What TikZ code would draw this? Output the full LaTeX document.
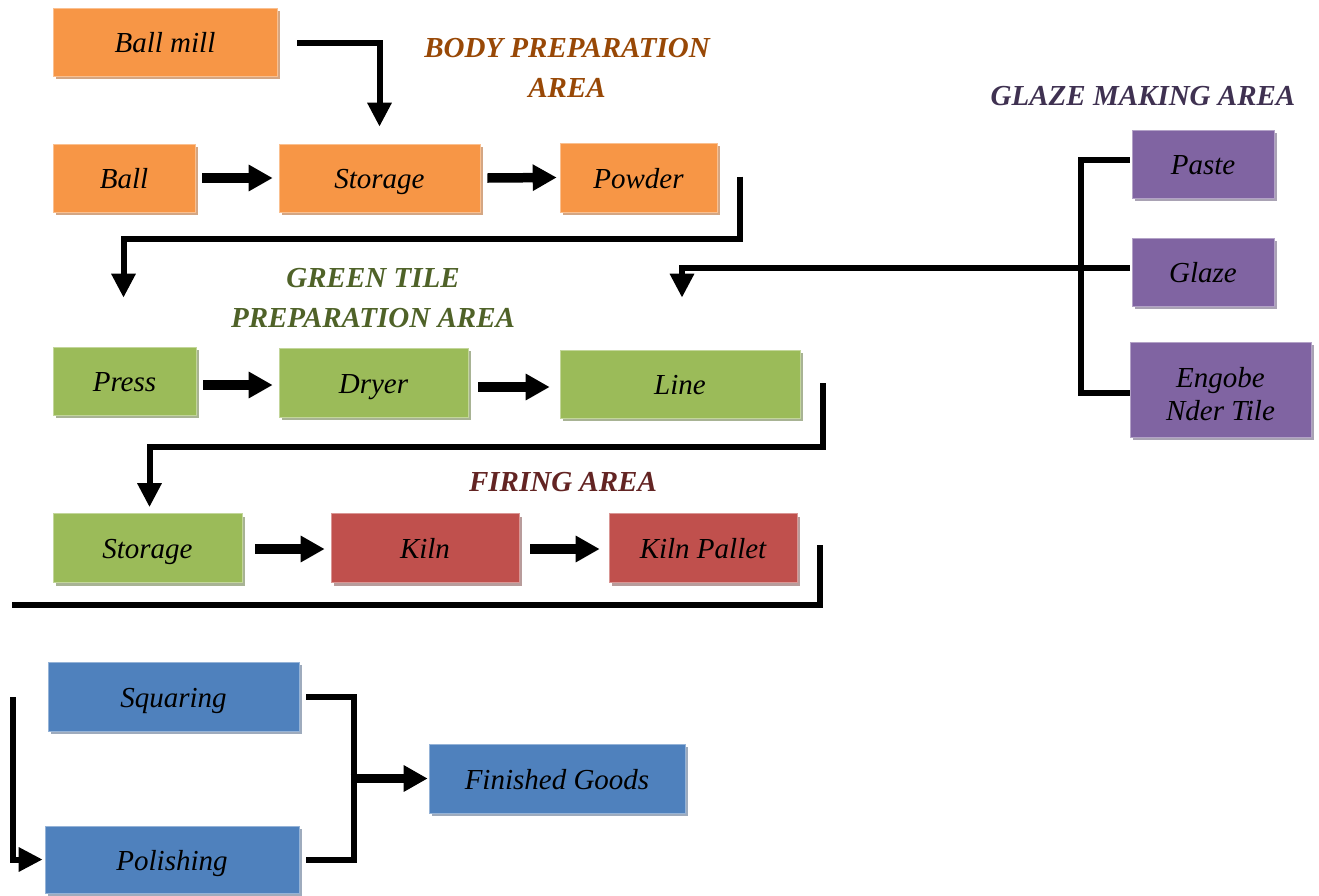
\documentclass[tikz,border=0pt]{standalone}
\usepackage{fontspec}
\setmainfont{Liberation Serif}
\usetikzlibrary{arrows.meta,shadows}
\definecolor{cOr}{HTML}{F79646}
\definecolor{sOr}{HTML}{D4A683}
\definecolor{cGr}{HTML}{9BBB59}
\definecolor{sGr}{HTML}{A8B394}
\definecolor{cRd}{HTML}{C0504D}
\definecolor{sRd}{HTML}{B89C9B}
\definecolor{cPu}{HTML}{8064A2}
\definecolor{sPu}{HTML}{A9A2B4}
\definecolor{cBl}{HTML}{4F81BD}
\definecolor{sBl}{HTML}{9EABBD}
\definecolor{tBody}{HTML}{984806}
\definecolor{tGreen}{HTML}{4F6228}
\definecolor{tFire}{HTML}{632423}
\definecolor{tGlaze}{HTML}{3F3151}
\begin{document}
\begin{tikzpicture}[x=1pt,y=-1pt,
  box/.style={rectangle, inner sep=0pt, align=center, text=black,
    font=\fontsize{29}{33}\selectfont\itshape, line width=0.6pt},
  oneline/.style={text height=24pt, text depth=3pt},
  obox/.style={box, oneline, fill=cOr, draw=cOr!60!white, drop shadow={shadow xshift=3pt, shadow yshift=-3pt, opacity=1, fill=sOr}},
  gbox/.style={box, oneline, fill=cGr, draw=cGr!60!white, drop shadow={shadow xshift=3pt, shadow yshift=-3pt, opacity=1, fill=sGr}},
  rbox/.style={box, oneline, fill=cRd, draw=cRd!60!white, drop shadow={shadow xshift=3pt, shadow yshift=-3pt, opacity=1, fill=sRd}},
  pbox/.style={box, fill=cPu, draw=cPu!60!white, drop shadow={shadow xshift=3pt, shadow yshift=-3pt, opacity=1, fill=sPu}},
  bbox/.style={box, oneline, fill=cBl, draw=cBl!60!white, drop shadow={shadow xshift=3pt, shadow yshift=-3pt, opacity=1, fill=sBl}},
  areatitle/.style={align=center, inner sep=0pt, font=\fontsize{29}{40}\selectfont\bfseries\itshape},
  harrow/.style={line width=9.5pt, -{Triangle[length=24pt,width=25pt]}},
  elbow/.style={line width=6pt},
  elbowarrow/.style={line width=6pt, -{Triangle[length=24pt,width=23pt]}}
]
\useasboundingbox (0,0) rectangle (1319,895);

% body preparation area
\node[obox, minimum width=224pt, minimum height=68pt] (bm) at (165,42) {Ball mill};
\node[obox, minimum width=142pt, minimum height=68pt] (ball) at (124,178) {Ball};
\node[obox, minimum width=201pt, minimum height=68pt] (st1) at (379.5,178) {Storage};
\node[obox, minimum width=157pt, minimum height=69pt] (pow) at (638.5,177.5) {Powder};
\node[areatitle, text=tBody] (tbody) at (567,68) {BODY PREPARATION\\AREA};

% green tile preparation area
\node[gbox, minimum width=143pt, minimum height=68pt] (press) at (124.5,381) {Press};
\node[gbox, minimum width=189pt, minimum height=69pt] (dryer) at (373.5,382.5) {Dryer};
\node[gbox, minimum width=240pt, minimum height=68pt] (line) at (680,384) {Line};
\node[gbox, minimum width=189pt, minimum height=69pt] (st2) at (147.5,548) {Storage};
\node[areatitle, text=tGreen] (tgreen) at (373,298) {GREEN TILE\\PREPARATION AREA};

% firing area
\node[rbox, minimum width=188pt, minimum height=69pt] (kiln) at (425,548) {Kiln};
\node[rbox, minimum width=188pt, minimum height=69pt] (kp) at (703,548) {Kiln Pallet};
\node[areatitle, text=tFire] (tfire) at (563,482) {FIRING AREA};

% glaze making area
\node[pbox, oneline, minimum width=142pt, minimum height=68pt] (paste) at (1203,164) {Paste};
\node[pbox, oneline, minimum width=142pt, minimum height=68pt] (glaze) at (1203,272) {Glaze};
\node[pbox, minimum width=181pt, minimum height=95pt] (eng) at (1220.5,389.5) {\rule{0pt}{30pt}Engobe\\Nder Tile};
\node[areatitle, text=tGlaze] (tglaze) at (1143,96) {GLAZE MAKING AREA};

% finishing
\node[bbox, minimum width=251pt, minimum height=69pt] (sq) at (173.5,696.5) {Squaring};
\node[bbox, minimum width=254pt, minimum height=67pt] (pol) at (172,859.5) {Polishing};
\node[bbox, minimum width=256pt, minimum height=69pt] (fg) at (557,778.5) {Finished Goods};

% connectors: body preparation
\draw[elbowarrow] ([shift={(20,1)}]bm.east) -| ([yshift=17pt]st1.north);
\draw[harrow] ([xshift=7pt]ball.east) -- ([xshift=-6pt]st1.west);
\draw[harrow] ([xshift=7pt]st1.east) -- ([xshift=-3pt]pow.west);
\draw[elbowarrow] ([shift={(23,-1)}]pow.east) -- ++(0,62) -| ([shift={(-1,-49)}]press.north);

% connectors: glaze
\draw[elbow] ([shift={(-2,-4)}]paste.west) -| ([shift={(-49,3.5)}]eng.west) -- ([shift={(0,3.5)}]eng.west);
\draw[elbowarrow] ([shift={(-2,-4)}]glaze.west) -| ([shift={(2,-52)}]line.north);

% connectors: green tile
\draw[harrow] ([shift={(7,4)}]press.east) -- ([shift={(-6,2.5)}]dryer.west);
\draw[harrow] ([shift={(10,4.5)}]dryer.east) -- ([shift={(-10,3)}]line.west);
\draw[elbowarrow] ([shift={(23,-1)}]line.east) -- ++(0,64) -| ([shift={(2,-6)}]st2.north);

% connectors: firing
\draw[harrow] ([shift={(13,1)}]st2.east) -- ([shift={(-6,1)}]kiln.west);
\draw[harrow] ([shift={(11,1)}]kiln.east) -- ([shift={(-9,1)}]kp.west);
\coordinate (brkA) at (12,605);
\draw[elbow] ([shift={(23,-3)}]kp.east) |- (brkA);

% connectors: finishing
\coordinate (brkB) at (13,697);
\draw[elbowarrow] (brkB) |- ([xshift=-2pt]pol.west);
\coordinate (jn) at ([xshift=-75pt]fg.west);
\draw[elbow] ([xshift=7pt]sq.east) -| (jn);
\draw[elbow] ([xshift=7pt]pol.east) -| (jn);
\draw[harrow] ([xshift=-3pt]jn) -- ([xshift=-1pt]fg.west);
\end{tikzpicture}
\end{document}
